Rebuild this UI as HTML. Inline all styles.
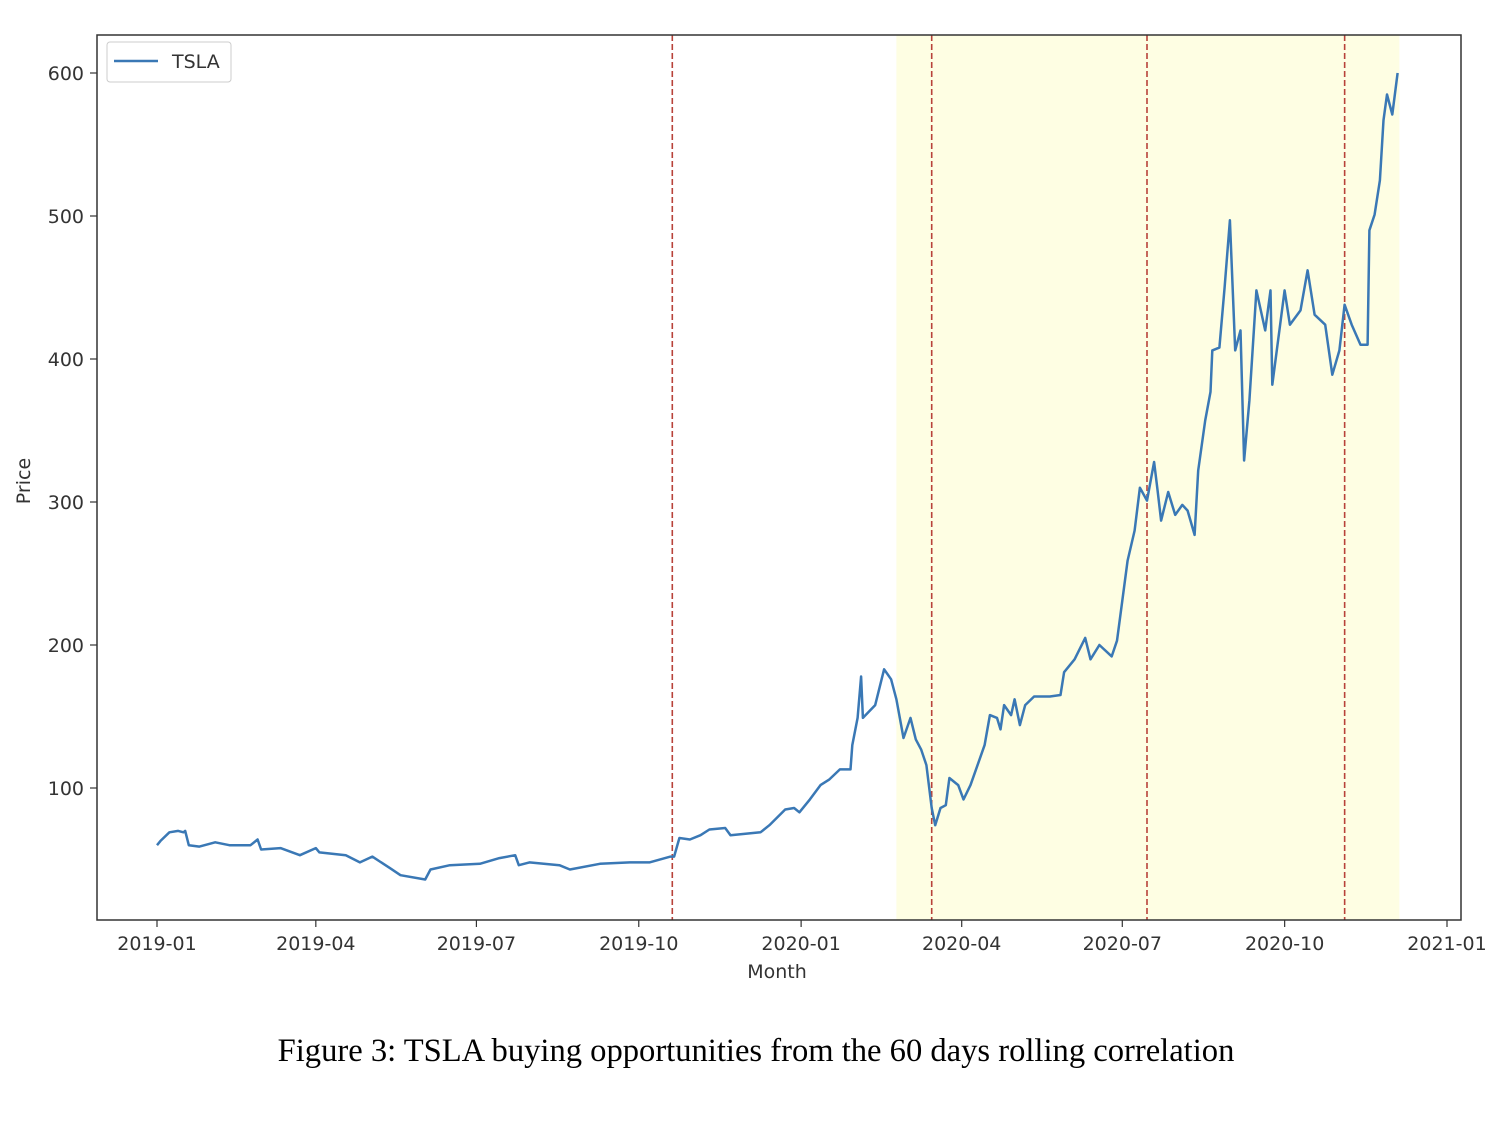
<!DOCTYPE html>
<html><head><meta charset="utf-8"><style>
body{margin:0;background:#fff;width:1498px;height:1122px;overflow:hidden}
svg{position:absolute;left:0;top:0}
.cap{position:absolute;left:0;width:1484px;padding-left:14px;top:1033px;text-align:center;font-family:"Liberation Serif",serif;font-size:32.6px;color:#000}
</style></head><body>
<svg id="chart" width="1498" height="1000"></svg>
<div class="cap">Figure 3: TSLA buying opportunities from the 60 days rolling correlation</div>
<script>
const dayOffsets=[0,2,7,12,15,16,18,24,33,41,53,57,59,70,81,90,92,107,115,122,132,138,152,155,166,183,194,203,205,211,228,234,251,268,279,291,293,296,302,308,313,322,325,342,347,356,361,364,370,376,381,387,393,394,397,399,400,407,412,416,419,423,427,430,433,436,439,441,444,447,449,454,457,461,469,472,476,478,480,484,486,489,492,497,506,512,514,520,526,529,534,541,544,547,550,554,557,561,565,567,569,573,577,581,584,588,590,594,597,598,602,605,608,611,614,616,619,623,628,631,632,636,639,642,648,652,656,662,666,670,673,677,682,686,687,690,693,695,697,700,703];
const prices=[60,63,69,70,69,70,60,59,62,60,60,64,57,58,53,58,55,53,48,52,44,39,36,43,46,47,51,53,46,48,46,43,47,48,48,52,52,65,64,67,71,72,67,69,74,85,86,83,92,102,106,113,113,130,149,178,149,158,183,176,162,135,149,134,127,116,86,74,86,88,107,102,92,102,130,151,149,141,158,151,162,144,158,164,164,165,181,190,205,190,200,192,203,231,259,280,310,301,328,308,287,307,291,298,294,277,322,357,377,406,408,450,497,406,420,329,371,448,420,448,382,420,448,424,434,462,431,424,389,406,438,424,410,410,490,501,525,567,585,571,600];
const xTickLabels=["2019-01","2019-04","2019-07","2019-10","2020-01","2020-04","2020-07","2020-10","2021-01"];
const xTickDays=[0,90,181,273,365,456,547,639,731];
const yTicks=[100,200,300,400,500,600];
const signalDays=[292,439,561,673];
const shadeRange=[419,704];
const NS="http://www.w3.org/2000/svg";
const svg=document.getElementById('chart');
const L=97,R=1461,T=35,B=920;
const xs=d=>157+d*(1447-157)/731;
const ys=v=>788-(v-100)*(715/500);
function mk(t,a,p){const e=document.createElementNS(NS,t);for(const k in a)e.setAttribute(k,a[k]);(p||svg).appendChild(e);return e;}
let e=mk('rect',{x:xs(shadeRange[0]),y:T,width:xs(shadeRange[1])-xs(shadeRange[0]),height:B-T,fill:'#fefee3'});


signalDays.forEach(d=>{const l=mk('line',{x1:xs(d),x2:xs(d),y1:T,y2:B,stroke:'#b8423a','stroke-width':1.6,'stroke-dasharray':'6,3'});

});
const pts=dayOffsets.map((d,i)=>xs(d).toFixed(1)+','+ys(prices[i]).toFixed(1)).join(' ');
e=mk('polyline',{points:pts,fill:'none',stroke:'#3a78b5','stroke-width':2.5,'stroke-linejoin':'round'});


e=mk('rect',{x:L,y:T,width:R-L,height:B-T,fill:'none',stroke:'#333','stroke-width':1.5});


const font='font-family:"DejaVu Sans","Liberation Sans",sans-serif;font-size:19px;fill:#333';
xTickDays.forEach((d,i)=>{mk('line',{x1:xs(d),x2:xs(d),y1:B,y2:B+7,stroke:'#333','stroke-width':1.2});
const t=mk('text',{x:xs(d),y:B+30,'text-anchor':'middle',style:font});t.textContent=xTickLabels[i];

});
yTicks.forEach(v=>{mk('line',{x1:L-7,x2:L,y1:ys(v),y2:ys(v),stroke:'#333','stroke-width':1.2});
const t=mk('text',{x:L-13,y:ys(v)+7,'text-anchor':'end',style:font});t.textContent=v;

});
e=mk('text',{x:777,y:978,'text-anchor':'middle',style:font});e.textContent='Month';


e=mk('text',{x:30,y:481,'text-anchor':'middle',transform:'rotate(-90 30 481)',style:font});e.textContent='Price';


const g=mk('g',{});


mk('rect',{x:107,y:42,width:124,height:40,rx:3,fill:'#fff',stroke:'#ccc'},g);
mk('line',{x1:114,x2:158,y1:61,y2:61,stroke:'#3a78b5','stroke-width':2.5},g);
e=mk('text',{x:172,y:68,style:font},g);e.textContent='TSLA';


</script>
</body></html>
